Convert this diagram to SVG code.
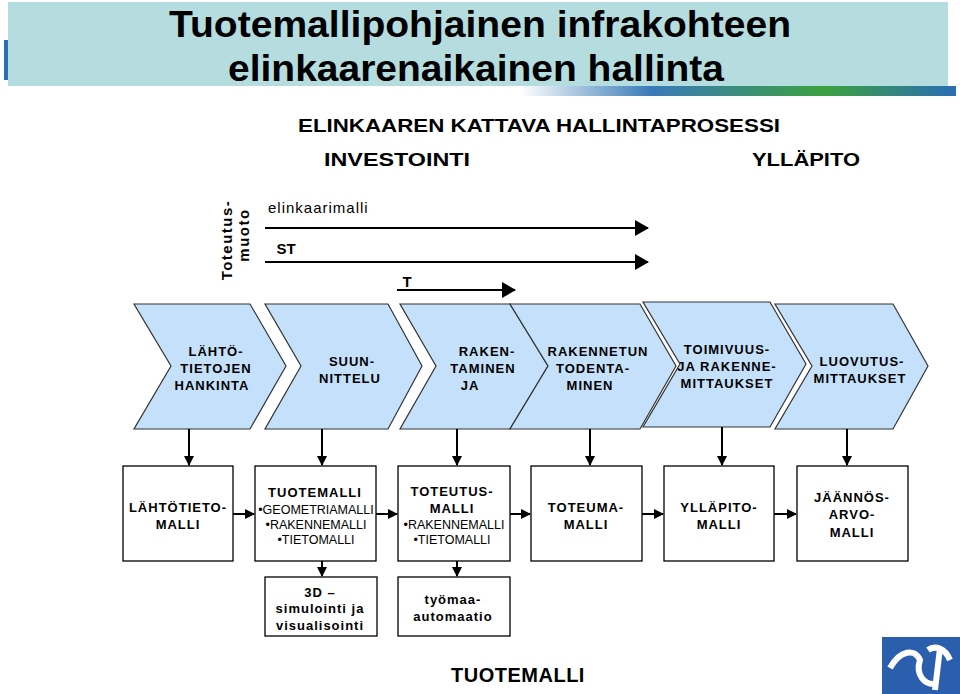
<svg xmlns="http://www.w3.org/2000/svg" width="960" height="694" viewBox="0 0 960 694">
<defs>
<style>
.t{font-family:"Liberation Sans",Arial,sans-serif;font-weight:bold;fill:#000;text-anchor:middle}
.c{fill:#c5e0fb;stroke:#333;stroke-width:1.2}
.b{fill:#fff;stroke:#000;stroke-width:1.3}
.ln{stroke:#000;stroke-width:2;fill:none}
.s{font-size:13px;letter-spacing:1px}
.n{font-family:"Liberation Sans",Arial,sans-serif;fill:#000;text-anchor:middle;font-size:12.5px}
</style>
<marker id="ah" markerWidth="10" markerHeight="10" refX="9" refY="5" orient="auto" markerUnits="userSpaceOnUse"><path d="M0,0L10,5L0,10z" fill="#000"/></marker>
<marker id="ab" markerWidth="14" markerHeight="16" refX="13" refY="8" orient="auto" markerUnits="userSpaceOnUse"><path d="M0,0L14,8L0,16z" fill="#000"/></marker>
<linearGradient id="g" x1="0" x2="1"><stop offset="0" stop-color="#fff"/><stop offset="0.3" stop-color="#3a7ab8"/><stop offset="0.7" stop-color="#3ca040"/><stop offset="1" stop-color="#2a6db5"/></linearGradient>
</defs>
<rect width="960" height="694" fill="#fff"/>
<g id="title">
<rect x="520" y="86" width="436" height="10" fill="url(#g)"/>
<rect x="4" y="40" width="8" height="40" fill="#2a6db5"/>
<rect x="8" y="2" width="940" height="84" fill="#b5dde0"/>
<text class="t" x="480" y="37" font-size="36" textLength="622" lengthAdjust="spacingAndGlyphs">Tuotemallipohjainen infrakohteen</text>
<text class="t" x="476" y="81" font-size="36" textLength="496" lengthAdjust="spacingAndGlyphs">elinkaarenaikainen hallinta</text>
</g>
<g id="headings">
<text class="t" x="539" y="132" font-size="18" textLength="482" lengthAdjust="spacingAndGlyphs">ELINKAAREN KATTAVA HALLINTAPROSESSI</text>
<text class="t" x="397" y="166" font-size="18" textLength="146" lengthAdjust="spacingAndGlyphs">INVESTOINTI</text>
<text class="t" x="806" y="166" font-size="18" textLength="108" lengthAdjust="spacingAndGlyphs">YLLÄPITO</text>
<text class="t" font-size="15" letter-spacing="1.5" transform="translate(232,240) rotate(-90)">Toteutus-</text>
<text class="t" font-size="15" letter-spacing="1.5" transform="translate(249,235) rotate(-90)">muoto</text>
<text class="t" x="268" y="213" font-size="15" style="text-anchor:start;font-weight:normal" letter-spacing="1">elinkaarimalli</text>
<text class="t" x="286" y="254" font-size="15">ST</text>
<text class="t" x="407" y="287" font-size="15">T</text>
</g>
<g id="chevrons">
<g id="ch1"><path class="c" d="M134,304H250L286,366L250,429H134L171,366Z"/><text class="t s" x="216" y="356">LÄHTÖ-</text><text class="t s" x="216" y="373">TIETOJEN</text><text class="t s" x="212" y="390">HANKINTA</text></g>
<g id="ch2"><path class="c" d="M265,304H388L422,366L388,429H265L301,366Z"/><text class="t s" x="352" y="366">SUUN-</text><text class="t s" x="350" y="383">NITTELU</text></g>
<g id="ch3"><path class="c" d="M400,304H510L548,366L510,429H400L436,366Z"/><text class="t s" x="487" y="356">RAKEN-</text><text class="t s" x="483" y="373">TAMINEN</text><text class="t s" x="470" y="390">JA</text></g>
<g id="ch4"><path class="c" d="M510,304H640L676,366L640,429H510L548,366Z"/><text class="t s" x="598" y="356">RAKENNETUN</text><text class="t s" x="593" y="373">TODENTA-</text><text class="t s" x="590" y="390">MINEN</text></g>
<g id="ch5"><path class="c" d="M643,302H770L806,364L770,427H643L680,364Z"/><text class="t s" x="727" y="354">TOIMIVUUS-</text><text class="t s" x="727" y="371">JA RAKENNE-</text><text class="t s" x="727" y="388">MITTAUKSET</text></g>
<g id="ch6"><path class="c" d="M775,304H893L928,366L893,429H775L812,366Z"/><text class="t s" x="862" y="366">LUOVUTUS-</text><text class="t s" x="860" y="383">MITTAUKSET</text></g>
</g>
<g id="connectors">
<path class="ln" d="M265,228H648" marker-end="url(#ab)"/>
<path class="ln" d="M265,262H648" marker-end="url(#ab)"/>
<path class="ln" d="M397,290H515" marker-end="url(#ab)"/>
<path class="ln" d="M189,429V465" marker-end="url(#ah)"/>
<path class="ln" d="M322,429V465" marker-end="url(#ah)"/>
<path class="ln" d="M457,429V465" marker-end="url(#ah)"/>
<path class="ln" d="M590,429V465" marker-end="url(#ah)"/>
<path class="ln" d="M722,427V465" marker-end="url(#ah)"/>
<path class="ln" d="M847,429V465" marker-end="url(#ah)"/>
<path class="ln" d="M233,514H254" marker-end="url(#ah)"/>
<path class="ln" d="M376,514H397" marker-end="url(#ah)"/>
<path class="ln" d="M510,514H530" marker-end="url(#ah)"/>
<path class="ln" d="M642,514H663" marker-end="url(#ah)"/>
<path class="ln" d="M774,514H796" marker-end="url(#ah)"/>
<path class="ln" d="M322,561V576" marker-end="url(#ah)"/>
<path class="ln" d="M457,561V576" marker-end="url(#ah)"/>
</g>
<g id="boxes">
<g id="b1"><rect class="b" x="123" y="466" width="110" height="95"/><text class="t s" x="178" y="512">LÄHTÖTIETO-</text><text class="t s" x="178" y="529">MALLI</text></g>
<g id="b2"><rect class="b" x="255" y="466" width="121" height="95"/><text class="t s" x="315" y="497">TUOTEMALLI</text><text class="n" x="316" y="514">•GEOMETRIAMALLI</text><text class="n" x="316" y="529">•RAKENNEMALLI</text><text class="n" x="316" y="544">•TIETOMALLI</text></g>
<g id="b3"><rect class="b" x="398" y="466" width="112" height="95"/><text class="t s" x="452" y="496">TOTEUTUS-</text><text class="t s" x="452" y="513">MALLI</text><text class="n" x="454" y="529">•RAKENNEMALLI</text><text class="n" x="452" y="544">•TIETOMALLI</text></g>
<g id="b4"><rect class="b" x="531" y="466" width="111" height="95"/><text class="t s" x="586" y="512">TOTEUMA-</text><text class="t s" x="586" y="529">MALLI</text></g>
<g id="b5"><rect class="b" x="664" y="466" width="110" height="95"/><text class="t s" x="719" y="512">YLLÄPITO-</text><text class="t s" x="719" y="529">MALLI</text></g>
<g id="b6"><rect class="b" x="797" y="466" width="111" height="95"/><text class="t s" x="852" y="502">JÄÄNNÖS-</text><text class="t s" x="852" y="519">ARVO-</text><text class="t s" x="852" y="537">MALLI</text></g>
<g id="b7"><rect class="b" x="265" y="577" width="112" height="59"/><text class="t s" x="320" y="597">3D –</text><text class="t s" x="320" y="613">simulointi ja</text><text class="t s" x="320" y="630">visualisointi</text></g>
<g id="b8"><rect class="b" x="398" y="577" width="112" height="59"/><text class="t s" x="453" y="604">työmaa-</text><text class="t s" x="453" y="621">automaatio</text></g>
</g>
<text class="t" x="518" y="682" font-size="20" letter-spacing="0.5">TUOTEMALLI</text>
<g id="logo">
<rect x="882" y="637" width="78" height="57" fill="#2a5fad"/>
<path d="M890,668C900,650 915,648 920,660C915,675 925,685 935,684M928,650C935,645 945,648 950,660M940,648L935,690" stroke="#fff" stroke-width="6" fill="none"/>
</g>
</svg>
